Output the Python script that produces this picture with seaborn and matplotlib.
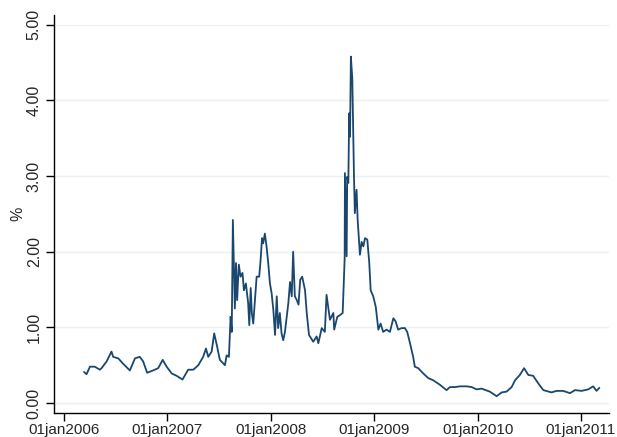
import pandas as pd
import matplotlib
matplotlib.use("Agg")
import matplotlib.pyplot as plt
import seaborn as sns

# spread series
dates = [
    "2006-03-12", "2006-03-21", "2006-04-02", "2006-04-19", "2006-05-07", "2006-05-13",
    "2006-05-31", "2006-06-17", "2006-06-23", "2006-07-11", "2006-07-28", "2006-08-21",
    "2006-09-08", "2006-09-25", "2006-10-07", "2006-10-21", "2006-11-11", "2006-11-29",
    "2006-12-15", "2006-12-29", "2007-01-16", "2007-02-02", "2007-02-23", "2007-03-15",
    "2007-04-02", "2007-04-20", "2007-05-07", "2007-05-17", "2007-05-25", "2007-06-06",
    "2007-06-15", "2007-06-24", "2007-07-05", "2007-07-23", "2007-07-29", "2007-08-06",
    "2007-08-12", "2007-08-16", "2007-08-20", "2007-08-27", "2007-08-31", "2007-09-04",
    "2007-09-10", "2007-09-16", "2007-09-23", "2007-09-28", "2007-10-05", "2007-10-13",
    "2007-10-17", "2007-10-22", "2007-10-26", "2007-10-31", "2007-11-06", "2007-11-12",
    "2007-11-21", "2007-11-26", "2007-12-01", "2007-12-05", "2007-12-11", "2007-12-17",
    "2007-12-23", "2007-12-29", "2008-01-04", "2008-01-10", "2008-01-16", "2008-01-22",
    "2008-01-27", "2008-02-02", "2008-02-08", "2008-02-14", "2008-02-20", "2008-03-03",
    "2008-03-09", "2008-03-15", "2008-03-20", "2008-03-26", "2008-04-02", "2008-04-08",
    "2008-04-14", "2008-04-21", "2008-05-01", "2008-05-07", "2008-05-15", "2008-05-30",
    "2008-06-11", "2008-06-17", "2008-06-29", "2008-07-10", "2008-07-16", "2008-07-22",
    "2008-07-28", "2008-08-09", "2008-08-12", "2008-08-23", "2008-09-01", "2008-09-11",
    "2008-09-18", "2008-09-19", "2008-09-25", "2008-09-27", "2008-10-01", "2008-10-04",
    "2008-10-07", "2008-10-10", "2008-10-15", "2008-10-21", "2008-10-24", "2008-10-30",
    "2008-11-03", "2008-11-11", "2008-11-17", "2008-11-23", "2008-11-29", "2008-12-07",
    "2008-12-14", "2008-12-19", "2008-12-28", "2009-01-06", "2009-01-15", "2009-01-23",
    "2009-02-01", "2009-02-13", "2009-02-25", "2009-03-09", "2009-03-17", "2009-03-26",
    "2009-04-07", "2009-04-19", "2009-04-27", "2009-05-07", "2009-05-18", "2009-05-24",
    "2009-06-05", "2009-06-23", "2009-07-10", "2009-07-28", "2009-08-21", "2009-09-13",
    "2009-09-25", "2009-10-13", "2009-10-30", "2009-11-23", "2009-12-11", "2009-12-28",
    "2010-01-15", "2010-02-13", "2010-03-09", "2010-03-27", "2010-04-13", "2010-05-01",
    "2010-05-13", "2010-05-30", "2010-06-14", "2010-06-29", "2010-07-16", "2010-08-03",
    "2010-08-21", "2010-09-19", "2010-10-07", "2010-10-30", "2010-11-23", "2010-12-11",
    "2011-01-03", "2011-01-27", "2011-02-13", "2011-02-25", "2011-03-07",
]
spread = [
    0.41, 0.38, 0.48, 0.48, 0.44, 0.46,
    0.55, 0.68, 0.61, 0.59, 0.52, 0.43,
    0.59, 0.61, 0.55, 0.40, 0.43, 0.46,
    0.57, 0.48, 0.39, 0.36, 0.31, 0.44,
    0.44, 0.50, 0.61, 0.72, 0.61, 0.68,
    0.92, 0.77, 0.57, 0.50, 0.63, 0.61,
    1.14, 0.94, 2.42, 1.25, 1.85, 1.36,
    1.83, 1.67, 1.72, 1.49, 1.58, 1.32,
    1.03, 1.52, 1.19, 1.05, 1.36, 1.67,
    1.67, 1.89, 2.18, 2.11, 2.24, 2.07,
    1.85, 1.58, 1.45, 1.23, 0.90, 1.41,
    0.99, 1.19, 0.92, 0.83, 0.94, 1.32,
    1.60, 1.41, 2.00, 1.41, 1.36, 1.30,
    1.63, 1.67, 1.49, 1.19, 0.90, 0.81,
    0.88, 0.79, 0.99, 0.94, 1.43, 1.27,
    1.10, 1.19, 0.97, 1.14, 1.16, 1.19,
    1.91, 3.04, 1.94, 2.99, 2.91, 3.83,
    3.52, 4.58, 4.29, 2.99, 2.51, 2.82,
    2.42, 1.96, 2.13, 2.07, 2.18, 2.16,
    1.85, 1.49, 1.41, 1.27, 0.97, 1.05,
    0.94, 0.97, 0.94, 1.12, 1.08, 0.97,
    0.99, 0.99, 0.94, 0.79, 0.61, 0.48,
    0.46, 0.39, 0.33, 0.30, 0.24, 0.17,
    0.21, 0.21, 0.22, 0.22, 0.21, 0.18,
    0.19, 0.15, 0.09, 0.14, 0.15, 0.21,
    0.30, 0.37, 0.46, 0.37, 0.36, 0.26,
    0.17, 0.14, 0.16, 0.16, 0.13, 0.17,
    0.16, 0.18, 0.22, 0.16, 0.20,
]

x_ticks = ["2006-01-01", "2007-01-01", "2008-01-01", "2009-01-01", "2010-01-01", "2011-01-01"]
x_labels = ["01jan2006", "01jan2007", "01jan2008", "01jan2009", "01jan2010", "01jan2011"]
y_ticks = [0, 1, 2, 3, 4, 5]
y_labels = ["0.00", "1.00", "2.00", "3.00", "4.00", "5.00"]

df = pd.DataFrame({"date": pd.to_datetime(dates), "spread": spread})

sns.set_style("white")
plt.rcParams["font.family"] = ["Liberation Sans", "DejaVu Sans"]

fig = plt.figure(figsize=(6.17, 4.37), dpi=100)
ax = fig.add_axes([0.088, 0.055, 0.899, 0.911])

for y in y_ticks:
    ax.axhline(y, color="#eaf2f3", lw=1.0, zorder=0)

sns.lineplot(data=df, x="date", y="spread", ax=ax, color="#1a476f", lw=1.3)

ax.set_xlim(pd.Timestamp("2005-11-27"), pd.Timestamp("2011-04-10"))
ax.set_ylim(-0.132, 5.132)

ax.set_xticks(pd.to_datetime(x_ticks))
ax.set_xticklabels(x_labels, fontsize=11)
ax.set_yticks(y_ticks)
ax.set_yticklabels(y_labels, fontsize=11.5, rotation=90, va="center")

ax.set_xlabel("")
ax.set_ylabel("%", fontsize=11.5)
ax.yaxis.set_label_coords(-0.052, 0.5)

ax.tick_params(axis="both", direction="out", length=6, width=1, color="black",
               bottom=True, left=True, pad=3)
ax.tick_params(axis="x", pad=1.5)
for side in ["top", "right"]:
    ax.spines[side].set_visible(False)
for side in ["left", "bottom"]:
    ax.spines[side].set_color("black")
    ax.spines[side].set_linewidth(1)

fig.savefig("out.png", dpi=100, facecolor="white")
